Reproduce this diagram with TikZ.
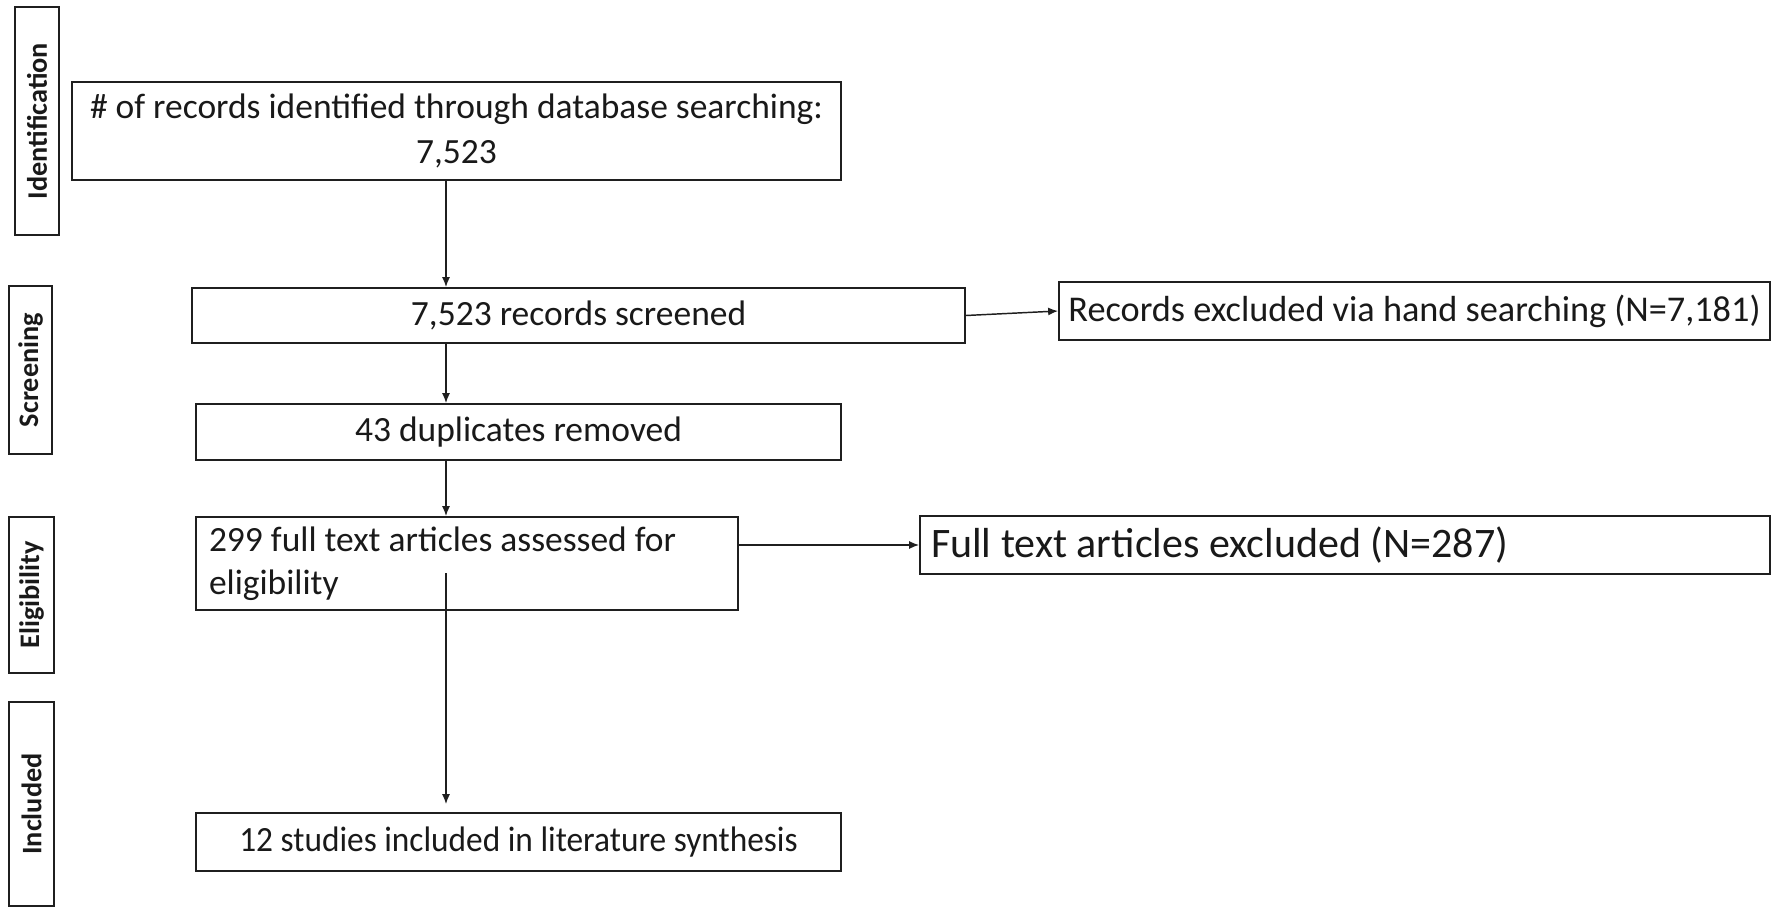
\documentclass[tikz,border=0pt]{standalone}
\usepackage{fontspec}
\setmainfont{Carlito}
\usetikzlibrary{arrows.meta,calc}
\begin{document}
\begin{tikzpicture}[x=0.75pt,y=-0.75pt,
  box/.style={draw=black!88, line width=1.3pt, inner sep=0pt, text=black!90,
    font=\fontsize{26.6}{33.75}\selectfont},
  lab/.style={draw=black!88, line width=1.3pt, inner sep=0pt, rotate=90, text=black!90,
    font=\fontsize{21.2}{24}\selectfont\bfseries},
  arr/.style={line width=1.1pt, draw=black!88, -{Latex[length=7.5pt,width=6pt]}}]
\useasboundingbox (0,0) rectangle (1776,907);
% side labels
\node[lab, minimum width=171pt, minimum height=33pt] (lid) at (37,121) {Identification};
\node[lab, minimum width=126pt, minimum height=32.25pt] (lscr) at (30.5,370) {Screening};
\node[lab, minimum width=117pt, minimum height=33.75pt] (lelig) at (31.5,595) {Eligibility};
\node[lab, minimum width=153pt, minimum height=33.75pt] (lincl) at (31.5,804) {Included};
% main boxes
\node[box, minimum width=576.75pt, minimum height=73.5pt, align=center] (top) at (456.5,131)
  {\# of records identified through database searching:\\7,523};
\node[box, minimum width=579.75pt, minimum height=41.25pt] (scr) at (578.5,315.5) {7,523 records screened};
\node[box, minimum width=533.25pt, minimum height=43.5pt, font=\fontsize{27.2}{30}\selectfont] (rb1) at (1414.5,311)
  {Records excluded via hand searching (N=7,181)};
\node[box, minimum width=483.75pt, minimum height=42pt] (dup) at (518.5,432) {43 duplicates removed};
\node[box, minimum width=406.5pt, minimum height=69.75pt, text width=387pt, align=flush left,
  font=\fontsize{26.6}{32.25}\selectfont] (elig) at (467,563.5)
  {299 full text articles assessed for\\eligibility};
\node[box, minimum width=637.5pt, minimum height=43.5pt, text width=621pt, align=flush left,
  font=\fontsize{31.5}{36}\selectfont] (ft) at (1345,545) {Full text articles excluded (N=287)};
\node[box, minimum width=483.75pt, minimum height=43.5pt] (incl) at (518.5,842)
  {\scalebox{0.94}[1]{12 studies included in literature synthesis}};
% connectors
\coordinate (ax) at (446,0);
\coordinate (s3) at (446,573);
\draw[arr] (top.south -| ax) -- (scr.north -| ax);
\draw[arr] (scr.south -| ax) -- (dup.north -| ax);
\draw[arr] (dup.south -| ax) -- (elig.north -| ax);
\draw[arr, shorten >=6pt] (s3) -- (incl.north -| ax);
\draw[arr] (scr.east) -- (rb1.west);
\draw[arr] (elig.east |- ft.west) -- (ft.west);
\end{tikzpicture}
\end{document}
